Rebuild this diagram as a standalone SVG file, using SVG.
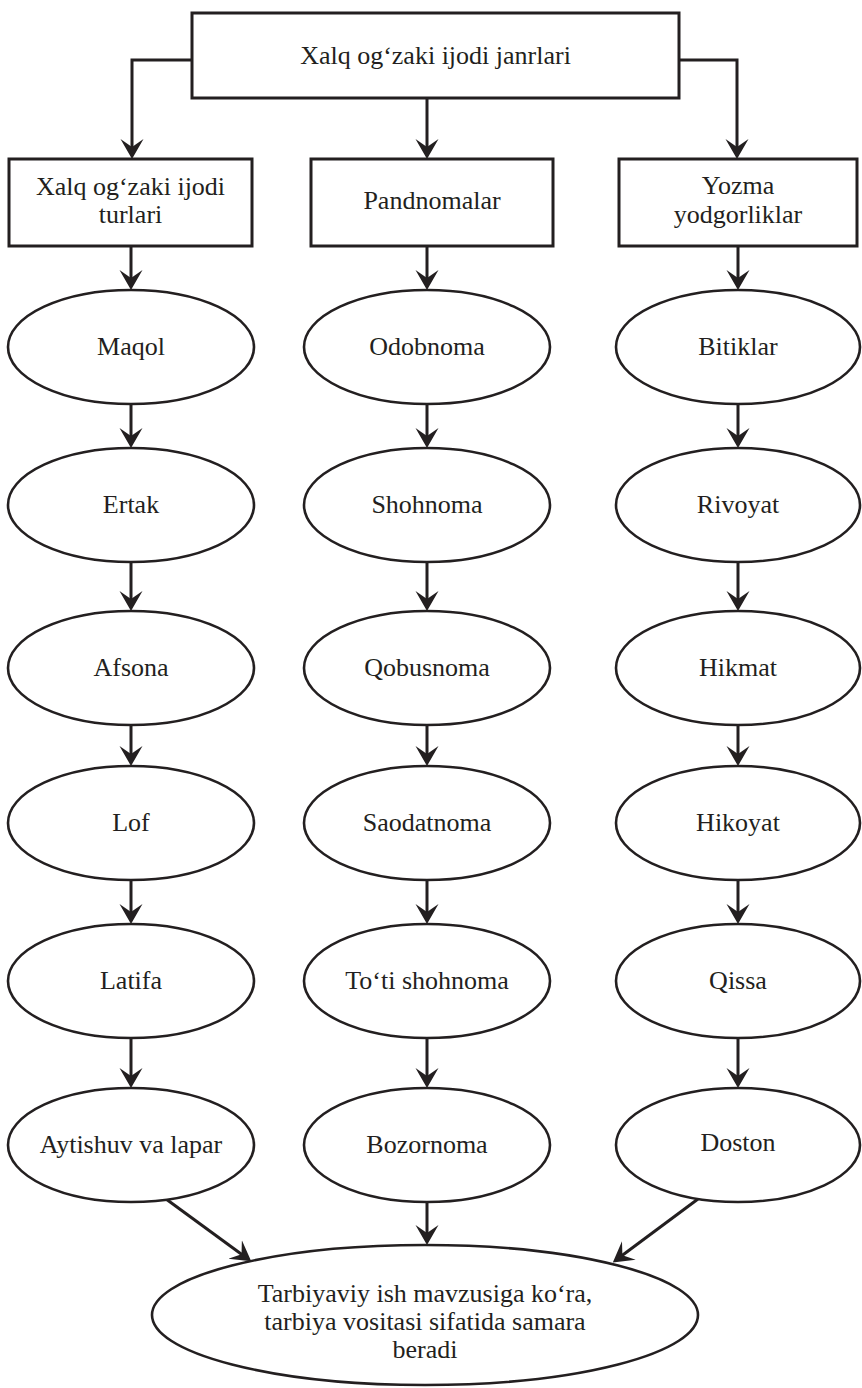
<svg xmlns="http://www.w3.org/2000/svg" width="862" height="1388" viewBox="0 0 862 1388">
<style>
.box{fill:#fff;stroke:#231f20;stroke-width:3}
.ell{fill:#fff;stroke:#231f20;stroke-width:2.6}
.t{font-family:"Liberation Serif","Times New Roman",serif;font-size:26px;fill:#231f20;text-anchor:middle}
.c{fill:none;stroke:#231f20;stroke-width:3;marker-end:url(#ah)}
</style>
<defs>
<marker id="ah" markerUnits="userSpaceOnUse" viewBox="-20 -12 21 24" refX="-4" refY="0" markerWidth="21" markerHeight="24" orient="auto">
<path d="M0,0 L-20,-11.5 L-12,0 L-20,11.5 Z" fill="#231f20"/>
</marker>
</defs>
<rect width="862" height="1388" fill="#fff"/>
<g id="connectors">
<path class="c" d="M192,60 H132 V155"/>
<path class="c" d="M427,98 V155"/>
<path class="c" d="M679,60 H737 V155"/>
<path class="c" d="M131,246 V286"/>
<path class="c" d="M427,246 V286"/>
<path class="c" d="M738,246 V286"/>
<path class="c" d="M131,404 V444"/>
<path class="c" d="M427,404 V444"/>
<path class="c" d="M738,404 V444"/>
<path class="c" d="M131,562 V607"/>
<path class="c" d="M427,562 V607"/>
<path class="c" d="M738,562 V607"/>
<path class="c" d="M131,725 V762"/>
<path class="c" d="M427,725 V762"/>
<path class="c" d="M738,725 V762"/>
<path class="c" d="M131,880 V920"/>
<path class="c" d="M427,880 V920"/>
<path class="c" d="M738,880 V920"/>
<path class="c" d="M131,1038 V1084"/>
<path class="c" d="M427,1038 V1084"/>
<path class="c" d="M738,1038 V1084"/>
<path class="c" d="M166,1199 L248,1259"/>
<path class="c" d="M427,1202 V1241"/>
<path class="c" d="M698,1199 L616,1260"/>
</g>
<g id="root"><rect class="box" x="192" y="13" width="487" height="85"/><text class="t" x="435.5" y="64">Xalq og‘zaki ijodi janrlari</text></g>
<g id="turlari"><rect class="box" x="9" y="159" width="243" height="87"/><text class="t" x="130.5" y="195">Xalq og‘zaki ijodi</text><text class="t" x="130.5" y="223">turlari</text></g>
<g id="pandnomalar"><rect class="box" x="311" y="159" width="242" height="87"/><text class="t" x="432" y="209">Pandnomalar</text></g>
<g id="yozma"><rect class="box" x="619" y="159" width="238" height="87"/><text class="t" x="738" y="194">Yozma</text><text class="t" x="738" y="223">yodgorliklar</text></g>

<g id="maqol"><ellipse class="ell" cx="131" cy="347" rx="123" ry="57"/><text class="t" x="131" y="355">Maqol</text></g>
<g id="ertak"><ellipse class="ell" cx="131" cy="505" rx="123" ry="57"/><text class="t" x="131" y="513">Ertak</text></g>
<g id="afsona"><ellipse class="ell" cx="131" cy="668" rx="123" ry="57"/><text class="t" x="131" y="676">Afsona</text></g>
<g id="lof"><ellipse class="ell" cx="131" cy="823" rx="123" ry="57"/><text class="t" x="131" y="831">Lof</text></g>
<g id="latifa"><ellipse class="ell" cx="131" cy="981" rx="123" ry="57"/><text class="t" x="131" y="989">Latifa</text></g>
<g id="aytishuv"><ellipse class="ell" cx="131" cy="1145" rx="123" ry="57"/><text class="t" x="131" y="1153">Aytishuv va lapar</text></g>

<g id="odobnoma"><ellipse class="ell" cx="427" cy="347" rx="123" ry="57"/><text class="t" x="427" y="355">Odobnoma</text></g>
<g id="shohnoma"><ellipse class="ell" cx="427" cy="505" rx="123" ry="57"/><text class="t" x="427" y="513">Shohnoma</text></g>
<g id="qobusnoma"><ellipse class="ell" cx="427" cy="668" rx="123" ry="57"/><text class="t" x="427" y="676">Qobusnoma</text></g>
<g id="saodatnoma"><ellipse class="ell" cx="427" cy="823" rx="123" ry="57"/><text class="t" x="427" y="831">Saodatnoma</text></g>
<g id="totishohnoma"><ellipse class="ell" cx="427" cy="981" rx="123" ry="57"/><text class="t" x="427" y="989">To‘ti shohnoma</text></g>
<g id="bozornoma"><ellipse class="ell" cx="427" cy="1145" rx="123" ry="57"/><text class="t" x="427" y="1153">Bozornoma</text></g>

<g id="bitiklar"><ellipse class="ell" cx="738" cy="347" rx="122" ry="57"/><text class="t" x="738" y="355">Bitiklar</text></g>
<g id="rivoyat"><ellipse class="ell" cx="738" cy="505" rx="122" ry="57"/><text class="t" x="738" y="513">Rivoyat</text></g>
<g id="hikmat"><ellipse class="ell" cx="738" cy="668" rx="122" ry="57"/><text class="t" x="738" y="676">Hikmat</text></g>
<g id="hikoyat"><ellipse class="ell" cx="738" cy="823" rx="122" ry="57"/><text class="t" x="738" y="831">Hikoyat</text></g>
<g id="qissa"><ellipse class="ell" cx="738" cy="981" rx="122" ry="57"/><text class="t" x="738" y="989">Qissa</text></g>
<g id="doston"><ellipse class="ell" cx="738" cy="1145" rx="122" ry="57"/><text class="t" x="738" y="1151">Doston</text></g>

<g id="natija"><ellipse class="ell" cx="425" cy="1315" rx="273" ry="70"/><text class="t" x="425" y="1302">Tarbiyaviy ish mavzusiga ko‘ra,</text><text class="t" x="425" y="1330">tarbiya vositasi sifatida samara</text><text class="t" x="425" y="1358">beradi</text></g>
</svg>
